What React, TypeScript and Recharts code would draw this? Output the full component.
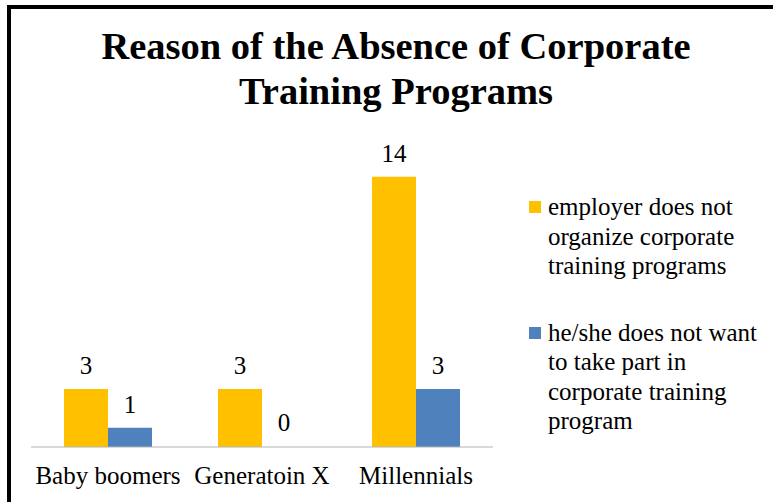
import { Bar, BarChart, LabelList, Rectangle, XAxis, YAxis } from "recharts";

const categories = ["Baby boomers", "Generatoin X", "Millennials"];
const notOrganized = [3, 3, 14];
const notWanted = [1, 0, 3];
const seriesNames = [
  "employer does not organize corporate training programs",
  "he/she does not want to take part in corporate training program",
];
const seriesColors = ["#FFC000", "#4F81BD"];
const boundaryTicks = [0, 1, 2, 3];

const data = categories.map((cat, i) => ({
  cat,
  a: notOrganized[i],
  b: notWanted[i],
}));

const font = "Liberation Serif";

// value label drawn above each bar, also for zero-height bars
const renderValue = (props: any) => {
  const { x, y, width, value } = props;
  return (
    <text x={Number(x) + Number(width) / 2} y={Number(y) - 15} textAnchor="middle" fontSize={25} fontFamily={font} fill="#000">
      {value}
    </text>
  );
};

// a zero value keeps its slot (for the label) but draws no bar
const barShape = (props: any) => {
  if (Number(props.value) === 0) return <g />;
  return <Rectangle {...props} />;
};

const App = () => {
  return (
    <div style={{ position: "absolute", left: 0, top: 0, width: 773, height: 502, background: "#fff", overflow: "hidden", fontFamily: font }}>
      <div style={{ position: "absolute", left: 7, top: 5, width: 800, height: 520, borderLeft: "4px solid #000", borderTop: "4px solid #000" }} />
      <div
        style={{
          position: "absolute",
          left: 0,
          top: 24,
          width: 792,
          textAlign: "center",
          fontWeight: "bold",
          fontSize: 38.5,
          lineHeight: "45px",
          color: "#000",
          fontFamily: font,
        }}
      >
        Reason of the Absence of Corporate
        <br />
        Training Programs
      </div>
      <div style={{ position: "absolute", left: 0, top: 0 }}>
        <BarChart width={773} height={502} data={data} margin={{ top: 138, right: 280, bottom: 14, left: 31 }} barGap={0} barCategoryGap={33}>
          <YAxis hide domain={[0, 16]} />
          <XAxis
            xAxisId="band"
            dataKey="cat"
            axisLine={false}
            tickLine={false}
            height={40}
            tickMargin={12}
            tick={{ fill: "#000", fontSize: 25, fontFamily: font }}
            interval={0}
          />
          <XAxis
            xAxisId="aGrid"
            type="number"
            domain={[0, 3]}
            ticks={boundaryTicks}
            tick={false}
            tickSize={7}
            height={1}
            stroke="#B3B3B3"
            axisLine={{ stroke: "#B3B3B3" }}
            tickLine={{ stroke: "#B3B3B3" }}
          />
          <Bar xAxisId="band" dataKey="a" fill={seriesColors[0]} isAnimationActive={false}>
            <LabelList dataKey="a" content={renderValue} />
          </Bar>
          <Bar xAxisId="band" dataKey="b" fill={seriesColors[1]} minPointSize={1} shape={barShape} isAnimationActive={false}>
            <LabelList dataKey="b" content={renderValue} />
          </Bar>
        </BarChart>
      </div>
      <div style={{ position: "absolute", left: 529, top: 192, width: 250, fontFamily: font }}>
        {seriesNames.map((name, i) => (
          <div key={name} style={{ display: "flex", alignItems: "flex-start", marginBottom: 37 }}>
            <div style={{ width: 12, height: 12, background: seriesColors[i], marginTop: 9, marginRight: 7, flexShrink: 0 }} />
            <div style={{ width: 225, fontSize: 25, lineHeight: "29.5px", color: "#000" }}>{name}</div>
          </div>
        ))}
      </div>
    </div>
  );
};

export default App;
